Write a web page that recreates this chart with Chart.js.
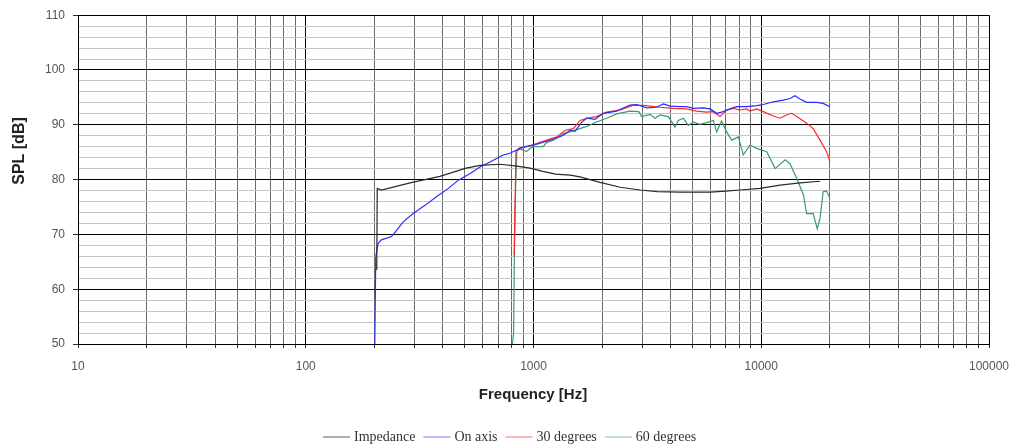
<!DOCTYPE html>
<html>
<head>
<meta charset="utf-8">
<script src="https://cdn.jsdelivr.net/npm/chart.js@4.4.0/dist/chart.umd.min.js"></script>
<style>
  html, body { margin: 0; padding: 0; background: #fff; }
</style>
</head>
<body>
<canvas id="spl_chart" width="1015" height="447"></canvas>
<script>
// values (Hz / dB)
const impFreq = [205, 206, 215, 287, 388, 506, 582, 713, 830, 966, 1100, 1250, 1450, 1600, 1960, 2400, 2940, 3500, 4400, 5960, 7000, 8070, 9880, 12090, 14790, 18110];
const impSpl  = [63.5, 78.4, 78.1, 79.4, 80.6, 82.1, 82.6, 82.8, 82.5, 82.1, 81.5, 81.0, 80.8, 80.5, 79.5, 78.6, 78.1, 77.8, 77.7, 77.7, 77.9, 78.1, 78.4, 79.0, 79.4, 79.7];

const onFreq = [201, 203, 208, 215, 238, 251, 268, 296, 334, 376, 423, 468, 527, 582, 644, 737, 788, 844, 873, 1000, 1144, 1265, 1353, 1447, 1521, 1629, 1713, 1862, 2026, 2318, 2653, 2838, 3140, 3474, 3717, 3975, 4397, 4710, 5035, 5570, 5960, 6373, 6814, 7290, 7796, 8625, 9545, 10210, 11300, 12500, 13370, 14060, 14790, 15820, 17500, 18710, 20020];
const onSpl  = [50, 66, 68.4, 69.0, 69.6, 70.8, 72.3, 73.8, 75.3, 76.9, 78.4, 79.9, 81.1, 82.3, 83.2, 84.5, 84.8, 85.4, 85.8, 86.3, 87.0, 87.6, 88.1, 89.0, 88.8, 90.5, 91.2, 91.0, 92.1, 92.5, 93.6, 93.7, 93.1, 93.2, 93.8, 93.4, 93.3, 93.3, 93.0, 93.1, 92.9, 92.1, 92.4, 92.9, 93.3, 93.3, 93.5, 93.7, 94.2, 94.5, 94.8, 95.3, 94.7, 94.1, 94.1, 93.9, 93.3];

const deg30Freq = [822, 838, 873, 1000, 1144, 1265, 1379, 1497, 1600, 1713, 1890, 2094, 2400, 2748, 3140, 3589, 4110, 4710, 5200, 5755, 6160, 6590, 7050, 7540, 8070, 8625, 8925, 9545, 10210, 11300, 12090, 12910, 13580, 14320, 15820, 16910, 18110, 19360, 20020];
const deg30Spl  = [66.2, 85.3, 85.7, 86.4, 87.2, 87.8, 89.0, 89.3, 90.8, 91.2, 91.5, 92.3, 92.7, 93.6, 93.5, 93.2, 93.0, 92.9, 92.5, 92.3, 92.4, 91.5, 92.7, 93.0, 92.7, 92.9, 92.5, 92.9, 92.4, 91.6, 91.2, 91.8, 92.1, 91.5, 90.3, 89.3, 87.2, 85.1, 83.4];

const deg60Freq = [808, 818, 824, 836, 845, 873, 933, 966, 1000, 1104, 1144, 1222, 1265, 1353, 1447, 1713, 1890, 2094, 2318, 2653, 2900, 2985, 3250, 3420, 3589, 3910, 4180, 4325, 4548, 4783, 5035, 5383, 5755, 6160, 6373, 6700, 7050, 7415, 7930, 8340, 8925, 9545, 10570, 11510, 12740, 13370, 14320, 15320, 15820, 16910, 17620, 18110, 18710, 19360, 20020];
const deg60Spl  = [50, 52, 66, 80, 85.2, 85.6, 85.1, 85.7, 86.0, 86.0, 86.8, 87.2, 87.6, 88.4, 88.7, 89.7, 90.5, 91.2, 92.0, 92.5, 92.4, 91.5, 91.9, 91.2, 91.8, 91.5, 89.6, 90.8, 91.2, 89.9, 90.5, 90.1, 90.4, 90.8, 88.7, 90.7, 88.7, 87.2, 87.8, 84.5, 86.3, 85.7, 85.1, 82.0, 83.6, 82.9, 80.2, 77.2, 73.8, 73.8, 71.0, 72.9, 77.8, 77.9, 76.6];

const seriesNames = ['Impedance', 'On axis', '30 degrees', '60 degrees'];
const freqMin = 10, freqMax = 100000;
const splMin = 50, splMax = 110, splStep = 2;

const toPoints = (xs, ys) => xs.map((x, i) => ({x: x, y: ys[i]}));

// grid lines at 1..9 x every decade
const gridFreqs = [];
for (let d = freqMin; d < freqMax; d *= 10) {
  for (let m = 1; m < 10; m++) gridFreqs.push(d * m);
}
gridFreqs.push(freqMax);

// horizontal grid every 2 dB
const gridSpl = [];
for (let v = splMin; v <= splMax; v += splStep) gridSpl.push(v);

const isDecade = v => Math.abs(Math.log10(v) - Math.round(Math.log10(v))) < 1e-9;

const lineColors = ['#2a2a2a', '#2b2bff', '#ff2626', '#3d9a70'];
const legendColors = ['#777777', '#8a8aff', '#ff8a8a', '#8fd0b0'];

// axis titles and the legend are drawn by hand to sit where the original has them
const decorations = {
  id: 'decorations',
  afterDraw(chart) {
    const ctx = chart.ctx;
    ctx.save();
    ctx.fillStyle = '#222';
    ctx.font = 'bold 15px "Liberation Sans", Arial, sans-serif';
    ctx.textAlign = 'center';
    ctx.textBaseline = 'middle';
    ctx.fillText('Frequency [Hz]', 533, 395);
    ctx.translate(20, 151);
    ctx.rotate(-Math.PI / 2);
    ctx.font = 'bold 16px "Liberation Sans", Arial, sans-serif';
    ctx.fillText('SPL [dB]', 0, 0);
    ctx.restore();

    ctx.save();
    ctx.font = '14px "Liberation Serif", "Times New Roman", serif';
    ctx.textBaseline = 'middle';
    ctx.textAlign = 'left';
    let x = 323;
    const y = 437;
    seriesNames.forEach((name, i) => {
      ctx.strokeStyle = legendColors[i];
      ctx.lineWidth = 1.2;
      ctx.beginPath();
      ctx.moveTo(x, y);
      ctx.lineTo(x + 27, y);
      ctx.stroke();
      x += 31;
      ctx.fillStyle = '#333';
      ctx.fillText(name, x, y);
      x += ctx.measureText(name).width + 8;
    });
    ctx.restore();
  }
};

const splChart = new Chart(document.getElementById('spl_chart').getContext('2d'), {
  type: 'scatter',
  data: {
    datasets: [
      {label: seriesNames[0], data: toPoints(impFreq, impSpl), borderColor: lineColors[0]},
      {label: seriesNames[1], data: toPoints(onFreq, onSpl), borderColor: lineColors[1]},
      {label: seriesNames[2], data: toPoints(deg30Freq, deg30Spl), borderColor: lineColors[2]},
      {label: seriesNames[3], data: toPoints(deg60Freq, deg60Spl), borderColor: lineColors[3]}
    ].map(ds => Object.assign(ds, {showLine: true, pointRadius: 0, borderWidth: 1.2, tension: 0, fill: false}))
  },
  options: {
    responsive: false,
    animation: false,
    layout: {padding: {top: 15, right: 26, left: 0, bottom: 0}},
    plugins: {
      legend: {display: false},
      tooltip: {enabled: false}
    },
    scales: {
      x: {
        type: 'logarithmic',
        min: freqMin,
        max: freqMax,
        afterBuildTicks: scale => { scale.ticks = gridFreqs.map(v => ({value: v})); },
        afterFit: scale => {
          scale.height = 103;
          scale.paddingLeft = 0;
          scale.paddingRight = 0;
        },
        ticks: {
          autoSkip: false,
          maxRotation: 0,
          padding: 11,
          color: '#555',
          font: {family: '"Liberation Sans", Arial, sans-serif', size: 12},
          callback: v => isDecade(v) ? String(v) : ''
        },
        grid: {
          color: ctx => (ctx.tick && isDecade(ctx.tick.value)) ? '#000' : '#6a6a6a',
          tickColor: '#333',
          tickLength: 4,
          lineWidth: 1
        },
        border: {color: '#000'}
      },
      y: {
        min: splMin,
        max: splMax,
        afterBuildTicks: scale => { scale.ticks = gridSpl.map(v => ({value: v})); },
        afterFit: scale => { scale.width = 78; },
        ticks: {
          autoSkip: false,
          padding: 8,
          color: '#555',
          font: {family: '"Liberation Sans", Arial, sans-serif', size: 12},
          callback: v => v % 10 === 0 ? String(v) : ''
        },
        grid: {
          color: ctx => (ctx.tick && ctx.tick.value % 10 === 0) ? '#000' : '#c4c4c4',
          tickColor: ctx => (ctx.tick && ctx.tick.value % 10 === 0) ? '#333' : 'rgba(0,0,0,0)',
          tickLength: 5,
          lineWidth: 1
        },
        border: {color: '#000'}
      }
    }
  },
  plugins: [decorations]
});
</script>
</body>
</html>
